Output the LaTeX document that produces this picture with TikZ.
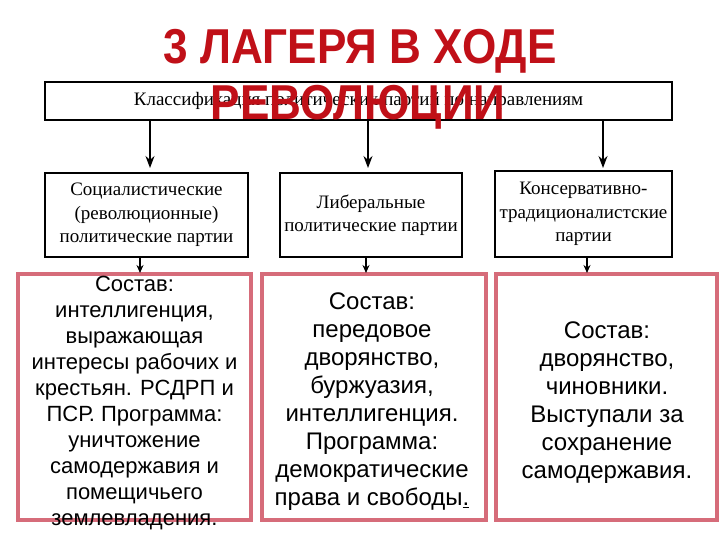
\documentclass[tikz,border=0pt]{standalone}
\usepackage{fontspec}
\setmainfont{Liberation Serif}
\newfontfamily\arialf{Liberation Sans}
\newfontfamily\titlef[FakeStretch=0.9]{Liberation Sans}
\usetikzlibrary{arrows.meta}
\definecolor{titlered}{RGB}{192,16,24}
\definecolor{pinkb}{RGB}{214,108,122}
\tikzset{
  serifbox/.style={draw=black, line width=1.3pt, align=center, inner sep=0pt,
    font=\fontsize{19}{23.5}\selectfont},
  pinkbox/.style={draw=pinkb, line width=4pt, minimum height=246pt, inner sep=0pt},
  pinktext/.style={align=center, inner sep=0pt, text=black},
  arr/.style={-{Stealth[length=12pt,width=9pt]}, line width=1.3pt},
  arrsmall/.style={-{Stealth[length=8pt,width=7pt]}, line width=1.3pt},
  titlestyle/.style={text=titlered, inner sep=0pt, font=\titlef\bfseries\fontsize{49}{55}\selectfont}
}
\begin{document}
\begin{tikzpicture}[x=1pt,y=-1pt]
\useasboundingbox (0,0) rectangle (720,540);
\fill[white] (0,0) rectangle (720,540);

% top classification box
\node[serifbox, minimum width=627pt, minimum height=38pt] (cls) at (358.5,101) {Классификация политических партий по направлениям};

% party boxes
\node[serifbox, minimum width=203pt, minimum height=84pt] (b1) at (146.5,215) {Социалистические\\(революционные)\\политические партии};
\node[serifbox, minimum width=182pt, minimum height=84pt] (b2) at (371,215) {Либеральные\\политические партии};
\node[serifbox, minimum width=177pt, minimum height=86pt] (b3) at (583.5,214) {Консервативно-\\традиционалистские\\партии};

% arrows from classification box
\coordinate (t1) at (150,168);
\coordinate (t2) at (368,168);
\coordinate (t3) at (603,168);
\draw[arr] (cls.south -| t1) -- (t1);
\draw[arr] (cls.south -| t2) -- (t2);
\draw[arr] (cls.south -| t3) -- (t3);

% pink boxes
\node[pinkbox, minimum width=233pt] (p1) at (134.5,397) {};
\node[pinkbox, minimum width=224pt] (p2) at (374,397) {};
\node[pinkbox, minimum width=221pt] (p3) at (606.5,397) {};

% arrows to pink boxes
\coordinate (u1) at (140,273);
\coordinate (u2) at (366,273);
\coordinate (u3) at (587,273);
\draw[arrsmall] (b1.south -| u1) -- (u1);
\draw[arrsmall] (b2.south -| u2) -- (u2);
\draw[arrsmall] (b3.south -| u3) -- (u3);

% texts of pink boxes
\node[pinktext, font=\arialf\fontsize{22}{26}\selectfont] (x1) at (134.5,403) {Состав:\\интеллигенция,\\выражающая\\интересы рабочих и\\крестьян. РСДРП и\\ПСР. Программа:\\уничтожение\\самодержавия и\\помещичьего\\землевладения.};
\node[pinktext, font=\arialf\fontsize{24}{28}\selectfont] (x2) at (372,402) {Состав:\\передовое\\дворянство,\\буржуазия,\\интеллигенция.\\Программа:\\демократические\\права и свободы\underline{.}};
\node[pinktext, font=\arialf\fontsize{24}{28}\selectfont] (x3) at (607,403) {Состав:\\дворянство,\\чиновники.\\Выступали за\\сохранение\\самодержавия.};

% title
\node[titlestyle, anchor=base] (ttl1) at (360,64) {3 ЛАГЕРЯ В ХОДЕ};
\node[titlestyle, anchor=base] (ttl2) at (358,120) {РЕВОЛЮЦИИ};
\end{tikzpicture}
\end{document}
